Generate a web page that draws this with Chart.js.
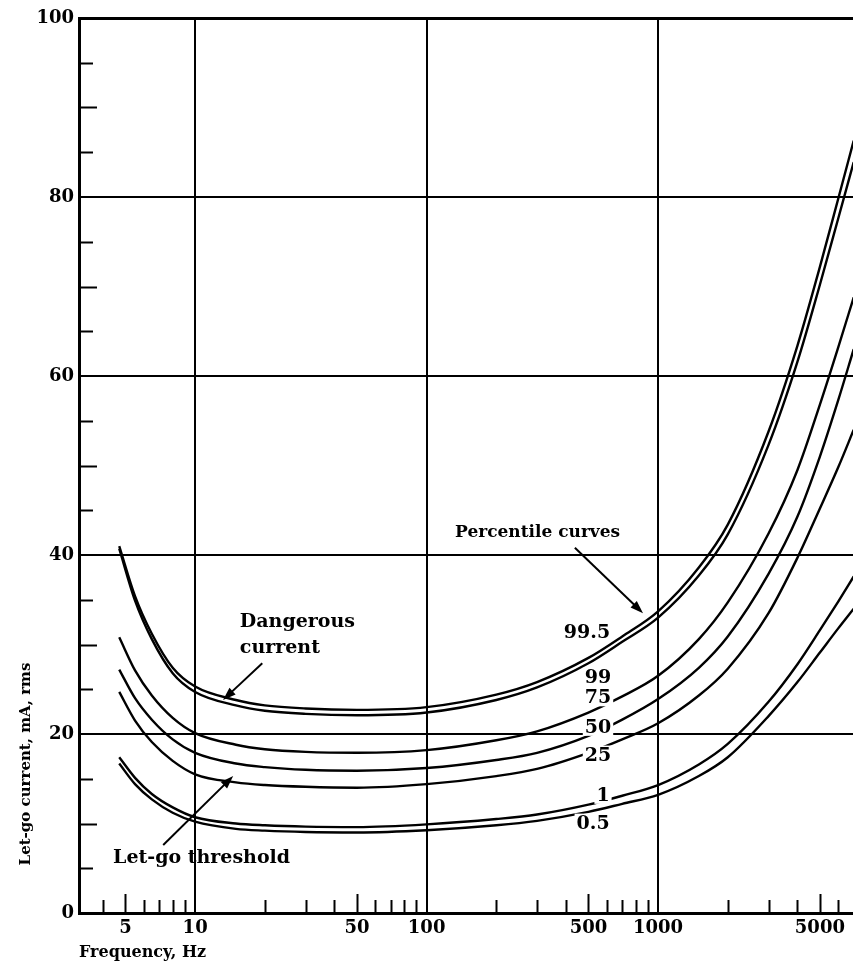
<!DOCTYPE html>
<html>
<head>
<meta charset="utf-8">
<script src="https://cdn.jsdelivr.net/npm/chart.js@4/dist/chart.umd.min.js"></script>
<style>
html,body{margin:0;padding:0;background:#fff;}
#wrap{width:853px;height:973px;position:relative;}
</style>
</head>
<body>
<div id="wrap"><canvas id="c"></canvas></div>
<script>
// ---- data ----
const frequencies = [4.7, 5.5, 6.5, 8, 10, 15, 20, 30, 50, 100, 200, 300, 500, 700, 1000, 1500, 2000, 3000, 4000, 5000, 6000, 7000];
const pct99_5 = [41.0, 35.4, 31.2, 27.4, 25.3, 23.8, 23.2, 22.85, 22.7, 23.0, 24.4, 25.8, 28.5, 30.9, 33.7, 38.6, 43.4, 53.8, 63.4, 72.2, 79.8, 86.3];
const pct99   = [40.7, 34.9, 30.6, 26.8, 24.7, 23.2, 22.6, 22.25, 22.1, 22.4, 23.8, 25.2, 27.9, 30.3, 33.0, 37.7, 42.3, 52.3, 61.6, 70.2, 77.6, 83.9];
const pct75   = [30.8, 27.1, 24.3, 21.8, 20.1, 18.8, 18.3, 18.0, 17.9, 18.2, 19.3, 20.3, 22.4, 24.2, 26.5, 30.6, 34.7, 42.4, 49.5, 56.8, 63.2, 68.8];
const pct50   = [27.2, 24.0, 21.6, 19.4, 17.9, 16.7, 16.3, 16.0, 15.9, 16.2, 17.1, 17.9, 19.8, 21.6, 23.9, 27.4, 30.9, 37.9, 44.3, 51.0, 57.3, 63.0];
const pct25   = [24.7, 21.5, 19.1, 17.0, 15.5, 14.6, 14.3, 14.1, 14.0, 14.4, 15.3, 16.1, 17.9, 19.4, 21.2, 24.3, 27.3, 33.5, 39.7, 45.2, 49.8, 54.0];
const pct1    = [17.4, 15.1, 13.3, 11.8, 10.7, 10.0, 9.8, 9.65, 9.6, 9.9, 10.5, 11.0, 12.1, 13.1, 14.3, 16.6, 18.9, 23.6, 27.8, 31.6, 34.8, 37.6];
const pct0_5  = [16.7, 14.4, 12.7, 11.2, 10.2, 9.4, 9.2, 9.05, 9.0, 9.25, 9.8, 10.3, 11.3, 12.2, 13.2, 15.3, 17.4, 22.0, 25.8, 29.1, 31.8, 34.0];

const seriesNames = ['99.5', '99', '75', '50', '25', '1', '0.5'];
const seriesValues = [pct99_5, pct99, pct75, pct50, pct25, pct1, pct0_5];

// axis ticks
const xTickValues = [4,5,6,7,8,9,10,20,30,40,50,60,70,80,90,100,200,300,400,500,600,700,800,900,1000,2000,3000,4000,5000,6000];
const xTickLabels = [5, 10, 50, 100, 500, 1000, 5000];
const xGridValues = [10, 100, 1000];
const yTickValues = [0,5,10,15,20,25,30,35,40,45,50,55,60,65,70,75,80,85,90,95,100];
const yTickLabels = [0, 20, 40, 60, 80, 100];

// curve labels (text, frequency, current)
const curveLabelText  = ['99.5', '99', '75', '50', '25', '1', '0.5'];
const curveLabelFreq  = [493, 550, 550, 550, 550, 578, 524];
const curveLabelValue = [31.4, 26.4, 24.1, 20.8, 17.7, 13.2, 10.1];

// annotation texts (left anchor in data space)
const noteText  = ['Dangerous', 'current', 'Percentile curves', 'Let-go threshold'];
const noteFreq  = [15.6, 15.6, 132.7, 4.42];
const noteValue = [32.5, 29.6, 42.5, 6.1];
const noteSize  = [19, 19, 17, 19];

// arrows: from (freq,value) to (freq,value)
const arrowFromFreq  = [19.5, 437, 7.28];
const arrowFromValue = [27.9, 40.8, 7.6];
const arrowToFreq    = [13.2, 861, 14.6];
const arrowToValue   = [23.8, 33.5, 15.3];

const SERIF = '"DejaVu Serif", "Liberation Serif", serif';

const datasets = seriesNames.map((name, i) => ({
  label: name,
  data: frequencies.map((f, j) => ({x: f, y: seriesValues[i][j]})),
  borderColor: '#000',
  borderWidth: 2.4,
  pointRadius: 0,
  fill: false,
  cubicInterpolationMode: 'monotone'
}));

const decorPlugin = {
  id: 'decor',
  afterDatasetsDraw(chart) {
    const ctx = chart.ctx;
    const xs = chart.scales.x, ys = chart.scales.y;
    ctx.save();
    // curve labels with white background
    ctx.font = 'bold 19px ' + SERIF;
    ctx.textAlign = 'center';
    ctx.textBaseline = 'middle';
    curveLabelText.forEach((t, i) => {
      const px = xs.getPixelForValue(curveLabelFreq[i]);
      const py = ys.getPixelForValue(curveLabelValue[i]);
      const w = ctx.measureText(t).width;
      ctx.fillStyle = '#fff';
      ctx.fillRect(px - w / 2 - 2, py - 9, w + 4, 18);
      ctx.fillStyle = '#000';
      ctx.fillText(t, px, py + 1);
    });
    // notes
    ctx.textAlign = 'left';
    noteText.forEach((t, i) => {
      ctx.font = 'bold ' + noteSize[i] + 'px ' + SERIF;
      const px = xs.getPixelForValue(noteFreq[i]);
      const py = ys.getPixelForValue(noteValue[i]);
      ctx.fillStyle = '#000';
      ctx.fillText(t, px, py);
    });
    // arrows
    ctx.strokeStyle = '#000';
    ctx.fillStyle = '#000';
    ctx.lineWidth = 2;
    arrowFromFreq.forEach((f, i) => {
      const x1 = xs.getPixelForValue(f), y1 = ys.getPixelForValue(arrowFromValue[i]);
      const x2 = xs.getPixelForValue(arrowToFreq[i]), y2 = ys.getPixelForValue(arrowToValue[i]);
      const a = Math.atan2(y2 - y1, x2 - x1);
      const L = 13, W = 4.5;
      ctx.beginPath();
      ctx.moveTo(x1, y1);
      ctx.lineTo(x2 - Math.cos(a) * L * 0.8, y2 - Math.sin(a) * L * 0.8);
      ctx.stroke();
      ctx.beginPath();
      ctx.moveTo(x2, y2);
      ctx.lineTo(x2 - Math.cos(a) * L + Math.sin(a) * W, y2 - Math.sin(a) * L - Math.cos(a) * W);
      ctx.lineTo(x2 - Math.cos(a) * L - Math.sin(a) * W, y2 - Math.sin(a) * L + Math.cos(a) * W);
      ctx.closePath();
      ctx.fill();
    });
    ctx.restore();
  },
  afterDraw(chart) {
    const ctx = chart.ctx;
    const xs = chart.scales.x, ys = chart.scales.y;
    const area = chart.chartArea;
    ctx.save();
    ctx.strokeStyle = '#000';
    ctx.lineWidth = 2;
    // inside tick marks on x axis
    xTickValues.forEach(v => {
      if (xGridValues.includes(v)) return;
      const px = Math.round(xs.getPixelForValue(v)) + 0.5;
      const lead = v / Math.pow(10, Math.floor(Math.log10(v) + 1e-9));
      const len = Math.abs(lead - 5) < 1e-6 ? 19 : 13;
      ctx.beginPath();
      ctx.moveTo(px, area.bottom);
      ctx.lineTo(px, area.bottom - len);
      ctx.stroke();
    });
    // inside tick marks on y axis
    yTickValues.forEach(v => {
      if (v % 20 === 0) return;
      const py = Math.round(ys.getPixelForValue(v)) + 0.5;
      const len = v % 10 === 0 ? 18 : 14;
      ctx.beginPath();
      ctx.moveTo(area.left, py);
      ctx.lineTo(area.left + len, py);
      ctx.stroke();
    });
    // y axis title
    ctx.fillStyle = '#000';
    ctx.font = 'bold 15px ' + SERIF;
    ctx.textAlign = 'center';
    ctx.textBaseline = 'middle';
    ctx.translate(area.left - 53, area.bottom - 149);
    ctx.rotate(-Math.PI / 2);
    ctx.fillText('Let-go current, mA, rms', 0, 0);
    ctx.restore();
  }
};

new Chart(document.getElementById('c'), {
  type: 'line',
  data: { datasets },
  plugins: [decorPlugin],
  options: {
    responsive: true,
    maintainAspectRatio: false,
    animation: false,
    devicePixelRatio: 1,
    layout: { padding: { top: 18, right: 0, bottom: 0, left: 0 } },
    plugins: { legend: { display: false }, tooltip: { enabled: false }, title: { display: false } },
    scales: {
      x: {
        type: 'logarithmic',
        min: 3.15,
        max: 6950,
        afterBuildTicks: s => { s.ticks = xTickValues.map(v => ({ value: v })); },
        afterFit: s => { s.height = 60; },
        ticks: {
          autoSkip: false,
          maxRotation: 0,
          minRotation: 0,
          padding: 5,
          color: '#000',
          font: { family: SERIF, size: 18, weight: 'bold' },
          callback: v => xTickLabels.includes(v) ? String(v) : ''
        },
        grid: {
          drawTicks: false,
          color: c => (c.tick && xGridValues.includes(c.tick.value)) ? '#000' : 'rgba(0,0,0,0)',
          lineWidth: 2
        },
        border: { display: true, color: '#000', width: 3 },
        title: {
          display: true,
          text: 'Frequency, Hz',
          align: 'start',
          color: '#000',
          font: { family: SERIF, size: 16, weight: 'bold' },
          padding: { top: 0, bottom: 11 }
        }
      },
      y: {
        type: 'linear',
        min: 0,
        max: 100,
        afterBuildTicks: s => { s.ticks = yTickValues.map(v => ({ value: v })); },
        afterFit: s => { s.width = 79; },
        ticks: {
          autoSkip: false,
          padding: 5,
          color: '#000',
          font: { family: SERIF, size: 18, weight: 'bold' },
          callback: v => yTickLabels.includes(v) ? String(v) : ''
        },
        grid: {
          drawTicks: false,
          color: c => (c.tick && c.tick.value % 20 === 0 && c.tick.value !== 0) ? '#000' : 'rgba(0,0,0,0)',
          lineWidth: c => (c.tick && c.tick.value === 100) ? 3 : 2
        },
        border: { display: true, color: '#000', width: 3 }
      }
    }
  }
});
</script>
</body>
</html>
